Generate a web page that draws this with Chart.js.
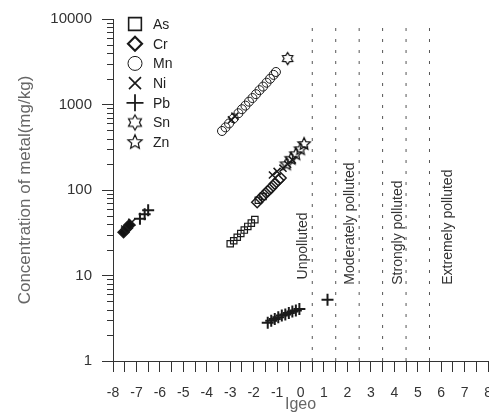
<!DOCTYPE html>
<html>
<head>
<meta charset="utf-8">
<script src="https://cdn.jsdelivr.net/npm/chart.js@4.4.1/dist/chart.umd.min.js"></script>
<style>
	html, body { margin: 0; padding: 0; background: #fff; overflow: hidden; }
	#wrap { width: 505px; height: 414px; }
</style>
</head>
<body>
<div id="wrap"><canvas id="c"></canvas></div>
<script>
(function () {
	'use strict';

	// --- Data (Igeo, concentration mg/kg) ---

	const legendNames = ['As', 'Cr', 'Mn', 'Ni', 'Pb', 'Sn', 'Zn'];

	const asIgeo = [-3.0, -2.85, -2.7, -2.55, -2.4, -2.25, -2.1, -1.95, -1.8, -1.6];
	const asConc = [23.5, 25.5, 28, 31, 34, 37.5, 41, 45, 76, 84];

	const crIgeo = [-7.55, -7.4, -7.3, -1.85, -1.7, -1.55, -1.4, -1.25, -1.1, -0.95, -0.85];
	const crConc = [32, 36, 39, 72, 80, 88, 97, 106, 118, 130, 138];

	const mnIgeo = [-3.35, -3.2, -3.05, -2.85, -2.65, -2.5, -2.35, -2.2, -2.05, -1.9, -1.75, -1.6, -1.45, -1.3, -1.15, -1.05];
	const mnConc = [490, 540, 600, 690, 790, 880, 970, 1080, 1190, 1320, 1470, 1620, 1800, 2000, 2220, 2400];

	const niIgeo = [-7.5, -7.2, -2.95, -2.8, -1.2, -1.0, -0.75, -0.55, -0.35];
	const niConc = [35, 42, 660, 730, 150, 165, 180, 200, 225];

	const pbIgeo = [-6.85, -6.65, -6.5, -1.4, -1.25, -1.1, -0.95, -0.8, -0.65, -0.5, -0.35, -0.2, -0.05, 1.15];
	const pbConc = [46, 52, 58, 2.8, 2.95, 3.1, 3.25, 3.4, 3.5, 3.65, 3.8, 3.9, 4.05, 5.2];

	const snIgeo = [-0.55];
	const snConc = [3450];

	const znIgeo = [-0.6, -0.4, -0.2, 0.0, 0.15];
	const znConc = [200, 232, 262, 300, 345];

	// pollution class boundaries and labels
	const boundaryIgeo = [0.5, 1.5, 2.5, 3.5, 4.5, 5.5];
	const boundaryConc = [1, 8000];
	const zoneNames = ['Unpolluted', 'Moderately polluted', 'Strongly polluted', 'Extremely polluted'];
	const zoneIgeo = [0.1, 2.1, 4.15, 6.3];
	const zoneConc = [9, 7.8, 7.8, 7.8];

	const yTickValues = [1, 10, 100, 1000, 10000];

	// --- Markers ---

	function makeStar(points, outer, inner, lineWidth) {
		const size = Math.ceil(outer * 2 + lineWidth * 2 + 2);
		const cv = document.createElement('canvas');
		cv.width = size;
		cv.height = size;
		const g = cv.getContext('2d');
		g.translate(size / 2, size / 2);
		g.beginPath();
		for (let i = 0; i < points * 2; i++) {
			const r = i % 2 === 0 ? outer : inner;
			const a = -Math.PI / 2 + i * Math.PI / points;
			g.lineTo(r * Math.cos(a), r * Math.sin(a));
		}
		g.closePath();
		g.lineWidth = lineWidth;
		g.strokeStyle = '#111';
		g.stroke();
		return cv;
	}

	const markers = {
		As: { style: 'rect', radius: 4.5, width: 1.2, legendRadius: 9, legendWidth: 1.6 },
		Cr: { style: 'rectRot', radius: 5.5, width: 1.5, legendRadius: 7, legendWidth: 2.2 },
		Mn: { style: 'circle', radius: 4.5, width: 1, legendRadius: 7, legendWidth: 1 },
		Ni: { style: 'crossRot', radius: 5, width: 1.5, legendRadius: 8.5, legendWidth: 1.6 },
		Pb: { style: 'cross', radius: 6, width: 2, legendRadius: 8.5, legendWidth: 1.8 },
		Sn: { style: makeStar(6, 6, 3.6, 1.2), legend: makeStar(6, 7.5, 4.4, 1.2) },
		Zn: { style: makeStar(5, 6.5, 3, 1.2), legend: makeStar(5, 7.5, 3.4, 1.2) },
	};

	function zip(xs, ys) {
		return xs.map((x, i) => ({ x, y: ys[i] }));
	}

	const series = {
		As: zip(asIgeo, asConc),
		Cr: zip(crIgeo, crConc),
		Mn: zip(mnIgeo, mnConc),
		Ni: zip(niIgeo, niConc),
		Pb: zip(pbIgeo, pbConc),
		Sn: zip(snIgeo, snConc),
		Zn: zip(znIgeo, znConc),
	};

	const datasets = boundaryIgeo.map(b => ({
		type: 'line',
		data: boundaryConc.map(c => ({ x: b, y: c })),
		borderColor: '#555',
		borderWidth: 1,
		borderDash: [3, 8],
		pointRadius: 0,
		order: 10,
	}));

	legendNames.forEach(name => {
		const m = markers[name];
		datasets.push({
			label: name,
			data: series[name],
			pointStyle: m.style,
			pointRadius: m.radius || 6,
			borderWidth: m.width || 1,
			borderColor: '#1a1a1a',
			backgroundColor: ctx => (ctx.raw && ctx.raw.x < -5 ? '#111' : 'rgba(0,0,0,0)'),
			order: 1,
		});
	});

	// --- Plugins ---

	const legendX = 135;
	const legendTop = 24;
	const legendStep = 19.7;

	const decorPlugin = {
		id: 'decor',
		afterDraw(chart) {
			const ctx = chart.ctx;
			const xs = chart.scales.x;
			const ys = chart.scales.y;
			const left = chart.chartArea.left;
			ctx.save();

			// minor log ticks
			ctx.strokeStyle = '#333';
			ctx.lineWidth = 1;
			ctx.beginPath();
			for (let d = 1; d < 10000; d *= 10) {
				for (let m = 2; m <= 9; m++) {
					const y = Math.round(ys.getPixelForValue(m * d)) + 0.5;
					ctx.moveTo(left - 6, y);
					ctx.lineTo(left, y);
				}
			}
			ctx.stroke();

			// class labels
			ctx.fillStyle = '#333';
			ctx.font = '14px "Liberation Sans", Arial, sans-serif';
			ctx.textAlign = 'left';
			ctx.textBaseline = 'middle';
			zoneNames.forEach((t, i) => {
				ctx.save();
				ctx.translate(xs.getPixelForValue(zoneIgeo[i]), ys.getPixelForValue(zoneConc[i]));
				ctx.rotate(-Math.PI / 2);
				ctx.fillText(t, 0, 0);
				ctx.restore();
			});

			// legend
			legendNames.forEach((name, i) => {
				const m = markers[name];
				const y = legendTop + i * legendStep;
				ctx.strokeStyle = '#1a1a1a';
				ctx.fillStyle = 'rgba(0,0,0,0)';
				ctx.lineWidth = m.legendWidth || 1;
				Chart.helpers.drawPoint(ctx, {
					pointStyle: m.legend || m.style,
					radius: m.legendRadius || 7,
					rotation: 0,
					borderWidth: m.legendWidth || 1,
				}, legendX, y);
				ctx.fillStyle = '#222';
				ctx.fillText(name, legendX + 18, y + 1);
			});
			ctx.restore();
		},
	};

	// --- Chart ---

	Chart.defaults.font.family = '"Liberation Sans", Arial, sans-serif';

	new Chart(document.getElementById('c'), {
		type: 'scatter',
		data: { datasets },
		options: {
			responsive: true,
			maintainAspectRatio: false,
			animation: false,
			events: [],
			layout: { padding: { top: 13, right: 0, bottom: 0, left: 0 } },
			plugins: {
				legend: { display: false },
				tooltip: { enabled: false },
			},
			scales: {
				x: {
					type: 'linear',
					min: -8,
					max: 8,
					afterFit: s => { s.height = 53; },
					ticks: {
						stepSize: 0.5,
						autoSkip: false,
						maxRotation: 0,
						color: '#333',
						font: { size: 14 },
						padding: 13,
						callback: v => (Number.isInteger(v) ? String(v) : ''),
					},
					grid: { drawOnChartArea: false, tickLength: 11, color: '#333' },
					border: { color: '#333' },
					title: { display: true, text: 'Igeo', color: '#666', font: { size: 16 }, padding: { top: 0, bottom: 0 } },
				},
				y: {
					type: 'logarithmic',
					min: 1,
					max: 10000,
					afterFit: s => { s.width = 113; },
					afterBuildTicks: s => { s.ticks = yTickValues.map(v => ({ value: v, major: true })); },
					ticks: {
						color: '#333',
						font: { size: 15 },
						padding: 10,
						callback: v => String(v),
					},
					grid: { drawOnChartArea: false, tickLength: 11, color: '#333' },
					border: { color: '#333' },
					title: { display: true, text: 'Concentration of metal(mg/kg)', color: '#666', font: { size: 17 }, padding: { top: 15, bottom: 0 } },
				},
			},
		},
		plugins: [decorPlugin],
	});
})();
</script>
</body>
</html>
